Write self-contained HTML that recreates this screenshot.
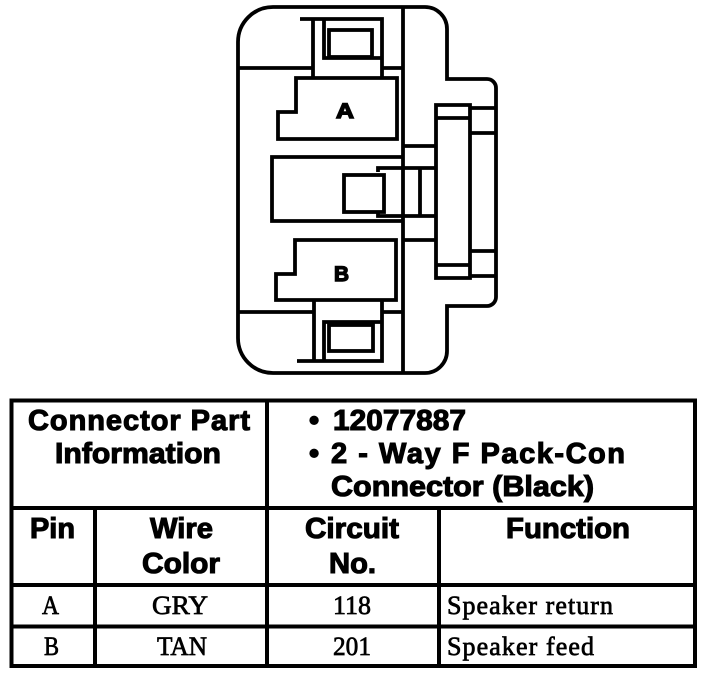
<!DOCTYPE html>
<html><head><meta charset="utf-8"><style>
html,body{margin:0;padding:0;background:#fff}
svg{display:block}
.s{font-family:"Liberation Sans",sans-serif;font-weight:bold;font-size:29px;stroke:#000;stroke-width:1.1px}
.r{font-family:"Liberation Serif",serif;font-size:26px;stroke:#000;stroke-width:.7px}
</style></head><body>
<svg width="704" height="676" viewBox="0 0 704 676" xmlns="http://www.w3.org/2000/svg">
<rect width="704" height="676" fill="#fff"/>
<g fill="none" stroke="#000" stroke-width="3.8">
<path d="M238 338V42A35 35 0 0 1 273 7H425A22 22 0 0 1 447 29V79H487A9 9 0 0 1 496 88V297A9 9 0 0 1 487 306H447V351A22 22 0 0 1 425 373H273A35 35 0 0 1 238 338Z"/>
<path d="M403 7V373"/>
<path d="M238 68H313M381 68H403M238 312H314M381 312H403"/>
<path d="M300 19H382V78M313 19V78M324 19V58H381"/>
<rect x="329" y="30" width="43" height="27"/>
<path d="M296 78H397V139H278V112H296Z"/>
<path d="M403 157H272V221H403"/>
<path d="M295 240H396V300H276V274H295Z"/>
<path d="M297 361H382V300M314 300V361M324 361V322H381"/>
<rect x="329" y="325" width="44" height="26"/>
<path d="M378 172V168H436M378 212V216H436"/>
<rect x="344" y="175" width="40" height="37"/>
<path d="M420 168V216"/>
<path d="M436 278V105H470V278ZM436 118H470M436 265H470"/>
<path d="M470 108H496M470 133H496M470 251H496M470 276H496"/>
<path d="M403 146H436M403 240H436"/>
</g>
<g fill="none" stroke="#000" stroke-width="4">
<rect x="11.5" y="400.5" width="683.5" height="265.5"/>
<path d="M11 508H695M11 585H695M11 626.5H695M267 400V666M95 508V666M439 508V666"/>
</g>
<text class="s" style="font-size:21px;stroke-width:1.4px" x="336" y="118" textLength="18" lengthAdjust="spacingAndGlyphs">A</text>
<text class="s" style="font-size:21px;stroke-width:1.4px" x="334" y="281" textLength="15" lengthAdjust="spacingAndGlyphs">B</text>
<g class="s">
<text x="28" y="430" textLength="222">Connector Part</text>
<text x="55" y="463" textLength="166" lengthAdjust="spacingAndGlyphs">Information</text>
<text x="309" y="430">•</text>
<text x="333" y="430" textLength="133" lengthAdjust="spacingAndGlyphs">12077887</text>
<text x="309" y="463">•</text>
<text x="331" y="463" textLength="294">2 - Way F Pack-Con</text>
<text x="331" y="496" textLength="263" lengthAdjust="spacingAndGlyphs">Connector (Black)</text>
<text x="30" y="538" textLength="45" lengthAdjust="spacingAndGlyphs">Pin</text>
<text x="150" y="538" textLength="63" lengthAdjust="spacingAndGlyphs">Wire</text>
<text x="142" y="573" textLength="78" lengthAdjust="spacingAndGlyphs">Color</text>
<text x="305" y="538" textLength="94" lengthAdjust="spacingAndGlyphs">Circuit</text>
<text x="329" y="573" textLength="47" lengthAdjust="spacingAndGlyphs">No.</text>
<text x="506" y="538" textLength="124" lengthAdjust="spacingAndGlyphs">Function</text>
</g>
<g class="r">
<text x="42" y="614" textLength="17" lengthAdjust="spacingAndGlyphs">A</text>
<text x="152" y="614" textLength="56" lengthAdjust="spacingAndGlyphs">GRY</text>
<text x="333" y="614" textLength="38" lengthAdjust="spacingAndGlyphs">118</text>
<text x="447" y="614" textLength="166">Speaker return</text>
<text x="44" y="655" textLength="15" lengthAdjust="spacingAndGlyphs">B</text>
<text x="157" y="655" textLength="50" lengthAdjust="spacingAndGlyphs">TAN</text>
<text x="333" y="655" textLength="38" lengthAdjust="spacingAndGlyphs">201</text>
<text x="447" y="655" textLength="147">Speaker feed</text>
</g>
</svg>
</body></html>
